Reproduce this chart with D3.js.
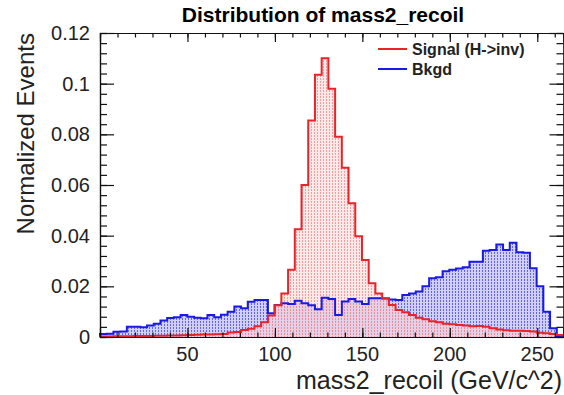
<!DOCTYPE html>
<html>
<head>
<meta charset="utf-8">
<script src="https://cdn.jsdelivr.net/npm/d3@7"></script>
<style>
  body { margin: 0; background: #fff; }
  svg { display: block; font-family: "Liberation Sans", Arial, Helvetica, sans-serif; }
</style>
</head>
<body>
<div id="chart"></div>
<script>
// histogram range and bin contents (normalized)
const xMin = 0;
const xMax = 265;
const signal = [
  0.0002, 0.0002, 0.0003, 0.0003, 0.0003, 0.0004, 0.0004, 0.0004, 0.0005, 0.0005,
  0.0006, 0.0006, 0.0007, 0.0008, 0.0009, 0.0010, 0.0010, 0.0011, 0.0012, 0.0018,
  0.0020, 0.0028, 0.0033, 0.0042, 0.0058, 0.0085, 0.0125, 0.0172, 0.0265, 0.0425,
  0.0600, 0.0855, 0.1035, 0.1100, 0.0980, 0.0790, 0.0668, 0.0528, 0.0398, 0.0304,
  0.0212, 0.0172, 0.0153, 0.0126, 0.0107, 0.0098, 0.0087, 0.0076, 0.0070, 0.0062,
  0.0058, 0.0052, 0.0050, 0.0047, 0.0045, 0.0042, 0.0043, 0.0040, 0.0035, 0.0030,
  0.0027, 0.0025, 0.0025, 0.0024, 0.0022, 0.0017, 0.0015, 0.0012, 0.0008
];
const bkgd = [
  0.0012, 0.0013, 0.0021, 0.0022, 0.0040, 0.0040, 0.0038, 0.0045, 0.0052, 0.0065,
  0.0075, 0.0078, 0.0087, 0.0080, 0.0076, 0.0074, 0.0087, 0.0078, 0.0088, 0.0100,
  0.0120, 0.0113, 0.0139, 0.0146, 0.0146, 0.0094, 0.0126, 0.0133, 0.0130, 0.0143,
  0.0133, 0.0125, 0.0110, 0.0155, 0.0150, 0.0087, 0.0140, 0.0150, 0.0140, 0.0130,
  0.0153, 0.0153, 0.0152, 0.0148, 0.0146, 0.0166, 0.0172, 0.0180, 0.0200, 0.0232,
  0.0236, 0.0260, 0.0265, 0.0270, 0.0275, 0.0297, 0.0297, 0.0340, 0.0343, 0.0365,
  0.0343, 0.0372, 0.0335, 0.0333, 0.0271, 0.0200, 0.0100, 0.0035, 0.0003
];
const xTicks = [50, 100, 150, 200, 250];
const yTicks = [0, 0.02, 0.04, 0.06, 0.08, 0.1, 0.12];
const legendLabels = ["Signal (H->inv)", "Bkgd"];

const W = 564, H = 395;
const margin = { left: 100, top: 33, right: 0.5, bottom: 58 };
const width = W - margin.left - margin.right;
const height = H - margin.top - margin.bottom;

const svg = d3.select("#chart").append("svg")
  .attr("width", W)
  .attr("height", H);

const defs = svg.append("defs");
const pb = defs.append("pattern").attr("id", "bkgPat")
  .attr("patternUnits", "userSpaceOnUse").attr("width", 3).attr("height", 3);
pb.append("rect").attr("width", 3).attr("height", 3).attr("fill", "#cfcff9");
pb.append("rect").attr("x", 1).attr("width", 1).attr("height", 2).attr("fill", "#6464e4");
const ps = defs.append("pattern").attr("id", "sigPat")
  .attr("patternUnits", "userSpaceOnUse").attr("width", 3).attr("height", 3);
ps.append("rect").attr("width", 3).attr("height", 3).attr("fill", "rgba(255,210,210,0.5)");
ps.append("rect").attr("x", 1).attr("width", 1).attr("height", 2).attr("fill", "rgba(240,140,140,0.8)");

const g = svg.append("g")
  .attr("transform", "translate(" + margin.left + "," + margin.top + ")");

const x = d3.scaleLinear().domain([xMin, xMax]).range([0, width]);
const y = d3.scaleLinear().domain([0, 0.12]).range([height, 0]);

// step outline points of a histogram
function steps(vals) {
  const bw = (xMax - xMin) / vals.length;
  const pts = [[xMin, 0]];
  vals.forEach((v, i) => {
    pts.push([xMin + i * bw, v]);
    pts.push([xMin + (i + 1) * bw, v]);
  });
  pts.push([xMax, 0]);
  return pts;
}

const area = d3.area().x(d => x(d[0])).y0(y(0)).y1(d => y(d[1]));
const line = d3.line().x(d => x(d[0])).y(d => y(d[1]));

g.append("path").datum(steps(bkgd)).attr("d", area).attr("fill", "url(#bkgPat)");
g.append("path").datum(steps(signal)).attr("d", area).attr("fill", "url(#sigPat)");
g.append("path").datum(steps(bkgd)).attr("d", line)
  .attr("fill", "none").attr("stroke", "#1a1ae6").attr("stroke-width", 2);
g.append("path").datum(steps(signal)).attr("d", line)
  .attr("fill", "none").attr("stroke", "#e8242a").attr("stroke-width", 2);

// axes, ROOT-like: ticks inside the frame on all four sides
const xMinor = d3.range(10, xMax, 10);
const yMinor = d3.range(0, 0.1201, 0.004);

g.append("g")
  .attr("transform", "translate(0," + height + ")")
  .call(d3.axisTop(x).tickValues(xMinor).tickSize(4.5).tickFormat(""));
g.append("g")
  .attr("transform", "translate(0," + height + ")")
  .call(d3.axisTop(x).tickValues(xTicks).tickSize(9).tickFormat(""));
g.append("g")
  .call(d3.axisBottom(x).tickValues(xMinor).tickSize(4.5).tickFormat(""));
g.append("g")
  .call(d3.axisBottom(x).tickValues(xTicks).tickSize(9).tickFormat(""));
g.append("g")
  .call(d3.axisRight(y).tickValues(yMinor).tickSize(7).tickFormat(""));
g.append("g")
  .call(d3.axisRight(y).tickValues(yTicks).tickSize(14).tickFormat(""));
g.append("g")
  .attr("transform", "translate(" + width + ",0)")
  .call(d3.axisLeft(y).tickValues(yMinor).tickSize(7).tickFormat(""));
g.append("g")
  .attr("transform", "translate(" + width + ",0)")
  .call(d3.axisLeft(y).tickValues(yTicks).tickSize(14).tickFormat(""));

g.selectAll(".domain").attr("stroke", "#111").attr("stroke-width", 1.2);
g.selectAll(".tick line").attr("stroke", "#111").attr("stroke-width", 1.2);

// tick labels
g.append("g").selectAll("text").data(xTicks).join("text")
  .attr("x", d => x(d)).attr("y", height + 24)
  .attr("text-anchor", "middle").attr("font-size", 20).attr("fill", "#222")
  .text(d => d);
g.append("g").selectAll("text").data(yTicks).join("text")
  .attr("x", -10).attr("y", d => y(d) + 7)
  .attr("text-anchor", "end").attr("font-size", 20).attr("fill", "#222")
  .text(d => d === 0 ? "0" : String(+d.toFixed(2)));

// titles
svg.append("text")
  .attr("x", 323).attr("y", 22)
  .attr("text-anchor", "middle").attr("font-size", 21).attr("font-weight", "bold")
  .text("Distribution of mass2_recoil");
svg.append("text")
  .attr("x", W - 2).attr("y", 389)
  .attr("text-anchor", "end").attr("font-size", 25).attr("fill", "#222")
  .text("mass2_recoil (GeV/c^2)");
svg.append("text")
  .attr("transform", "translate(34," + margin.top + ") rotate(-90)")
  .attr("text-anchor", "end").attr("font-size", 24).attr("fill", "#222")
  .text("Normalized Events");

// legend
const legColors = ["#e8242a", "#1a1ae6"];
const leg = svg.append("g");
legendLabels.forEach((t, i) => {
  const ly = 49 + i * 20;
  leg.append("line").attr("x1", 378).attr("x2", 407).attr("y1", ly).attr("y2", ly)
    .attr("stroke", legColors[i]).attr("stroke-width", 2);
  leg.append("text").attr("x", 412).attr("y", ly + 6)
    .attr("font-size", 16).attr("font-weight", "bold").attr("fill", "#222")
    .text(t);
});
</script>
</body>
</html>
